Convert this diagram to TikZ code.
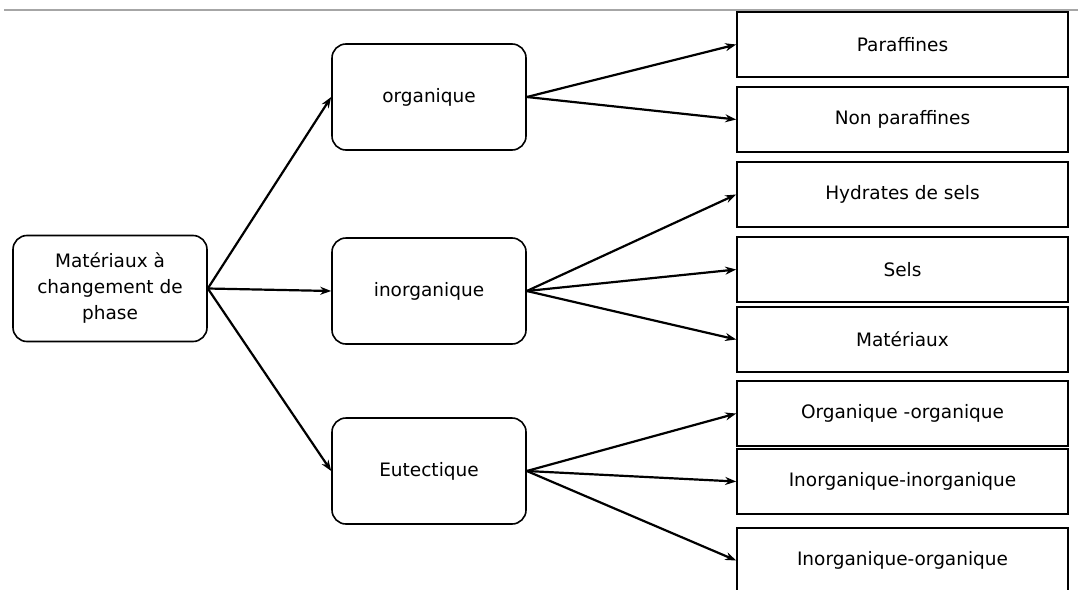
\documentclass[tikz,border=0pt]{standalone}
\usepackage{fontspec}
\setmainfont{DejaVu Sans}
\usetikzlibrary{arrows.meta}

\begin{document}
\begin{tikzpicture}[x=1pt, y=-1pt, font=\fontsize{18.5}{26}\selectfont,
  phase/.style={draw, rounded corners=14pt, line width=1.6pt,
    minimum width=194pt, minimum height=106pt, align=center},
  leaf/.style={draw, line width=1.6pt, minimum width=331pt, minimum height=65pt},
  link/.style={-{Stealth[length=11pt,width=8pt]}, line width=2.2pt}]
  \clip (0,0) rectangle (1078,589);
  % rule at the top of the page
  \draw[gray!70, line width=2pt] (4,10) -- (1078,10);
  \node[phase] (pcm) at (110,288.5) {Matériaux à\\changement de\\phase};
  \node[phase] (org) at (429,97) {organique};
  \node[phase] (inorg) at (429,291) {inorganique};
  \node[phase] (eut) at (429,471) {Eutectique};
  \foreach \name/\y/\txt in {para/44.5/Paraffines, nonpara/119.5/Non paraffines,
      hyd/194.5/Hydrates de sels, sels/269.5/Sels, mat/339.5/Matériaux,
      orgorg/413.5/Organique -organique, inin/481.5/Inorganique-inorganique,
      inorg2/560.5/Inorganique-organique}
    \node[leaf] (\name) at (902.5,\y) {\txt};
  \foreach \to in {org, inorg, eut}
    \draw[link] (pcm.east) -- (\to.west);
  \draw[link] (org.east) -- (para.west);
  \draw[link] (org.east) -- (nonpara.west);
  \foreach \to in {hyd, sels, mat}
    \draw[link] (inorg.east) -- (\to.west);
  \foreach \to in {orgorg, inin, inorg2}
    \draw[link] (eut.east) -- (\to.west);
\end{tikzpicture}
\end{document}
